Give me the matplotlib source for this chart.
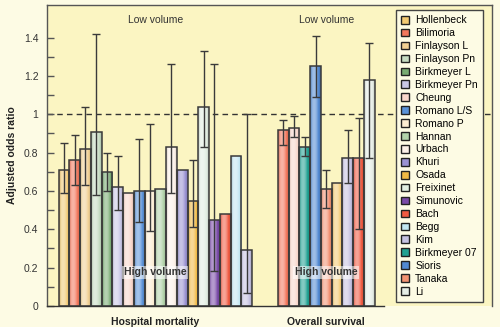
import numpy as np
import matplotlib
matplotlib.use("Agg")
import matplotlib.pyplot as plt
from matplotlib.colors import to_rgb
from matplotlib.patches import Patch

plt.rcParams["font.family"] = ["Liberation Sans", "DejaVu Sans"]

# legend order / colours
studies = ["Hollenbeck", "Bilimoria", "Finlayson L", "Finlayson Pn", "Birkmeyer L",
           "Birkmeyer Pn", "Cheung", "Romano L/S", "Romano P", "Hannan", "Urbach",
           "Khuri", "Osada", "Freixinet", "Simunovic", "Bach", "Begg", "Kim",
           "Birkmeyer 07", "Sioris", "Tanaka", "Li"]
colors = ["#f2c972", "#f2775c", "#f1d093", "#c6dcc2", "#78ab72",
          "#c9c7e6", "#f9d6ca", "#5a92d8", "#fcedd2", "#b2d3aa", "#fcf1e8",
          "#9a92d2", "#f0b944", "#e2eee2", "#7a4aa8", "#f05a42", "#c2e6f2", "#c6c2e2",
          "#21a192", "#5189d2", "#f29272", "#e6eee6"]

# hospital mortality
mort_studies = studies[:18]
mort_or = [0.71, 0.76, 0.82, 0.91, 0.70, 0.62, 0.59, 0.60, 0.60, 0.61, 0.83,
           0.71, 0.55, 1.04, 0.45, 0.48, 0.78, 0.29]
mort_lo = [0.59, 0.63, 0.63, 0.58, 0.60, 0.50, None, 0.44, 0.39, None, 0.59,
           None, 0.41, 0.83, 0.18, None, None, 0.07]
mort_hi = [0.85, 0.89, 1.04, 1.42, 0.80, 0.78, None, 0.87, 0.95, None, 1.26,
           None, 0.76, 1.33, 1.26, None, None, 1.00]

# overall survival
surv_studies = ["Bilimoria", "Cheung", "Birkmeyer 07", "Sioris", "Tanaka",
                "Hollenbeck", "Kim", "Bach", "Li"]
surv_or = [0.92, 0.93, 0.83, 1.25, 0.61, 0.64, 0.77, 0.77, 1.18]
surv_lo = [0.84, 0.88, 0.78, 1.09, 0.51, None, 0.64, 0.40, 0.77]
surv_hi = [0.97, 0.99, 0.88, 1.41, 0.71, None, 0.92, 0.98, 1.37]

groups = ["Hospital mortality", "Overall survival"]
yticks = [0, 0.2, 0.4, 0.6, 0.8, 1.0, 1.2, 1.4]
ytick_labels = ["0", "0.2", "0.4", "0.6", "0.8", "1", "1.2", "1.4"]

edge = "#3a3a3a"
cmap = dict(zip(studies, colors))

fig = plt.figure(figsize=(5.0, 3.27), dpi=100, facecolor="#fdfbe4")
ax = fig.add_axes([0.0934, 0.0642, 0.8906, 0.9205])
ax.set_facecolor("#fbf5c2")

x_mort = np.arange(len(mort_or), dtype=float)
x_surv = x_mort[-1] + 3.4 + np.arange(len(surv_or))


def shade(rgb, n=40):
    t = np.linspace(-1, 1, n)
    light = 0.45 * np.clip(1 - (t + 0.25) ** 2 * 1.6, 0, 1)
    dark = 0.18 * np.clip(np.abs(t) - 0.6, 0, 1) / 0.4
    c = np.array(rgb)[None, :]
    img = c + (1 - c) * light[:, None]
    img = img * (1 - dark[:, None])
    return img[None, :, :]


def draw_group(xs, vals, lo, hi, names):
    cols = [cmap[n] for n in names]
    bars = ax.bar(xs, vals, width=1.0, color=cols, edgecolor="none", zorder=2)
    for b, c in zip(bars, cols):
        x0, w, h = b.get_x(), b.get_width(), b.get_height()
        im = ax.imshow(shade(to_rgb(c)), extent=(x0, x0 + w, 0, h),
                       aspect="auto", zorder=2.1, interpolation="bilinear")
        im.set_clip_path(b)
    ax.bar(xs, vals, width=1.0, fill=False, edgecolor=edge, linewidth=1.1, zorder=2.2)
    for xv, l, h in zip(xs, lo, hi):
        if l is None:
            continue
        ax.errorbar([xv], [(l + h) / 2], yerr=[[(h - l) / 2], [(h - l) / 2]],
                    fmt="none", ecolor=edge, elinewidth=1.0, capsize=2.6,
                    capthick=1.0, zorder=3)


draw_group(x_mort, mort_or, mort_lo, mort_hi, mort_studies)
draw_group(x_surv, surv_or, surv_lo, surv_hi, surv_studies)

ax.axhline(1.0, color="#333333", linestyle=(0, (4, 3)), linewidth=1.0, zorder=1.5)

ax.set_xlim(-1.6, 39.8)
ax.set_ylim(0, 1.57)
ax.set_xticks([])
ax.set_yticks(yticks)
ax.set_yticklabels(ytick_labels, fontsize=7.5, color="#333333")
ax.set_yticks(np.arange(0.1, 1.5, 0.2), minor=True)
ax.tick_params(axis="y", which="both", direction="in", length=5, width=1.0,
               color="#555555", pad=6)
for s in ax.spines.values():
    s.set_color("#555555")
    s.set_linewidth(1.0)
ax.spines["bottom"].set_bounds(-1.6, x_surv[-1] + 1.4)
ax.spines["bottom"].set_color("#333333")

centers = [x_mort.mean(), x_surv.mean()]
for cx, g in zip(centers, groups):
    ax.text(cx, 1.49, "Low volume", ha="center", va="center", fontsize=7.5,
            color="#333333", zorder=4)
    ax.text(cx, 0.175, "High volume", ha="center", va="center", fontsize=7.5,
            fontweight="bold", color="#333333", zorder=4,
            bbox=dict(boxstyle="square,pad=0.15", facecolor="white",
                      edgecolor="none", alpha=0.55))
    ax.text(cx, -0.035, g, ha="center", va="top", fontsize=7.5,
            fontweight="bold", color="#222222", transform=ax.get_xaxis_transform())

fig.text(0.024, 0.525, "Adjusted odds ratio", rotation=90, ha="center",
         va="center", fontsize=7.5, fontweight="bold", color="#222222")

handles = [Patch(facecolor=c, edgecolor="#222222", linewidth=1.0) for c in colors]
leg = ax.legend(handles, studies, loc="upper left", bbox_to_anchor=(0.784, 0.983),
                fontsize=7.5, frameon=True, fancybox=False, labelspacing=0.28,
                handlelength=0.75, handleheight=0.75, handletextpad=0.6,
                borderpad=0.5, borderaxespad=0)
leg.get_frame().set_facecolor("#fdfbe4")
leg.get_frame().set_edgecolor("#444444")
leg.get_frame().set_linewidth(1.0)
leg.get_frame().set_alpha(1)
leg.set_zorder(5)

fig.savefig("out.png", dpi=100, facecolor=fig.get_facecolor())
